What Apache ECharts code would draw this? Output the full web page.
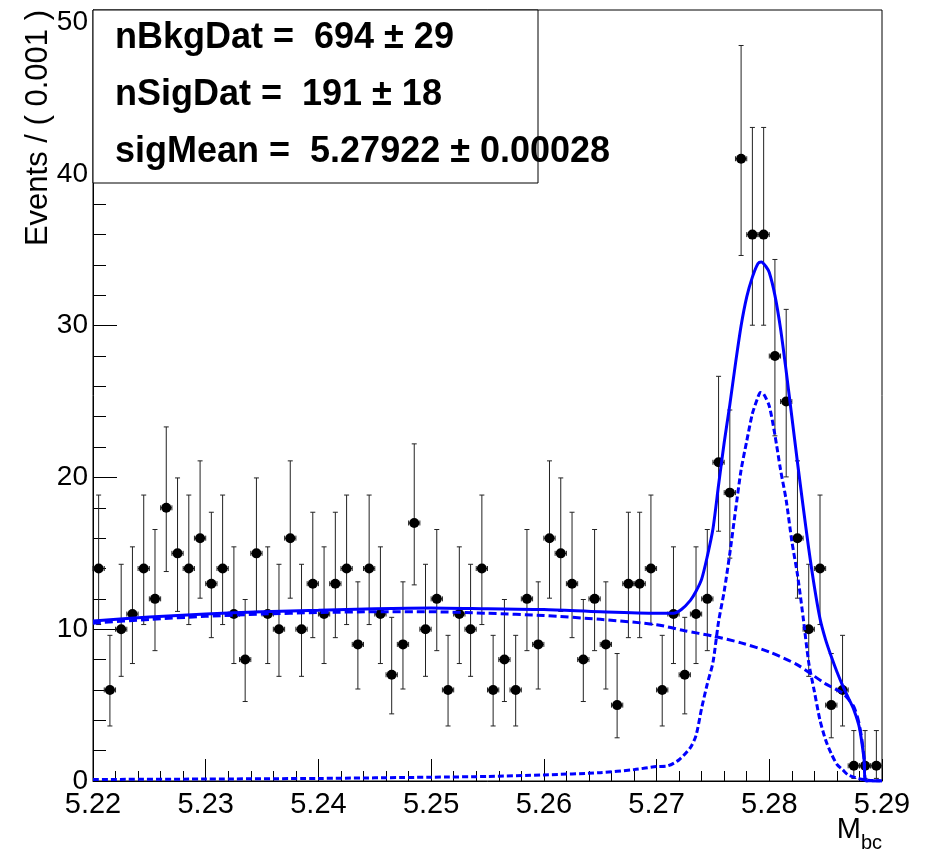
<!DOCTYPE html>
<html><head><meta charset="utf-8">
<script src="https://cdn.jsdelivr.net/npm/echarts@6/dist/echarts.min.js"></script>
<style>html,body{margin:0;padding:0;background:#fff}#c{width:932px;height:853px}</style>
</head><body><div id="c"></div>
<script>
// ---- data ----
const binWidth = 0.001;
const binCenters = [
 5.2205,5.2215,5.2225,5.2235,5.2245,5.2255,5.2265,5.2275,5.2285,5.2295,
 5.2305,5.2315,5.2325,5.2335,5.2345,5.2355,5.2365,5.2375,5.2385,5.2395,
 5.2405,5.2415,5.2425,5.2435,5.2445,5.2455,5.2465,5.2475,5.2485,5.2495,
 5.2505,5.2515,5.2525,5.2535,5.2545,5.2555,5.2565,5.2575,5.2585,5.2595,
 5.2605,5.2615,5.2625,5.2635,5.2645,5.2655,5.2665,5.2675,5.2685,5.2695,
 5.2705,5.2715,5.2725,5.2735,5.2745,5.2755,5.2765,5.2775,5.2785,5.2795,
 5.2805,5.2815,5.2825,5.2835,5.2845,5.2855,5.2865,5.2875,5.2885,5.2895];
const counts = [
 14,6,10,11,14,12,18,15,14,16,
 13,14,11,8,15,11,10,16,10,13,
 11,13,14,9,14,11,7,9,17,10,
 12,6,11,10,14,6,8,6,12,9,
 16,15,13,8,12,9,5,13,13,14,
 6,11,7,11,12,21,19,41,36,36,
 28,25,16,10,14,5,6,1,1,1];

// total fit (solid)
const totX = [5.2200,5.2250,5.2300,5.2350,5.2400,5.2450,5.2500,5.2550,5.2600,5.2650,5.2700,5.2715,5.2722,5.2730,5.2735,5.2740,5.2745,5.2750,5.2755,5.2760,5.2765,5.2770,5.2775,5.2780,5.2785,5.2790,5.2793,5.2797,5.2800,5.2805,5.2810,5.2815,5.2820,5.2825,5.2830,5.2835,5.2840,5.2845,5.2850,5.2855,5.2860,5.2865,5.2870,5.2875,5.2880,5.2884,5.2886,5.2900];
const totY = [10.55,10.80,11.00,11.15,11.25,11.35,11.40,11.35,11.30,11.15,11.05,11.05,11.30,11.90,12.50,13.30,14.80,16.60,19.50,22.30,24.80,27.50,30.00,31.90,33.20,34.10,34.20,33.90,33.50,32.00,29.80,27.00,24.00,21.00,18.10,15.30,12.80,10.70,9.30,8.20,7.20,6.30,5.50,4.70,3.50,1.50,0.00,0.00];
// background component (dashed)
const bkgX = [5.2200,5.2250,5.2300,5.2350,5.2400,5.2450,5.2500,5.2550,5.2600,5.2650,5.2700,5.2725,5.2750,5.2775,5.2800,5.2825,5.2850,5.2865,5.2870,5.2875,5.2879,5.2882,5.2884,5.2886,5.2900];
const bkgY = [10.40,10.65,10.85,11.00,11.10,11.15,11.15,11.05,10.90,10.65,10.30,9.90,9.55,9.10,8.50,7.65,6.40,5.80,5.40,4.90,4.00,2.80,1.60,0.00,0.00];
// signal component (dotted)
const sigX = [5.2200,5.2300,5.2400,5.2500,5.2550,5.2600,5.2650,5.2680,5.2700,5.2710,5.2720,5.2730,5.2735,5.2740,5.2745,5.2750,5.2755,5.2760,5.2765,5.2770,5.2775,5.2780,5.2785,5.2790,5.2792,5.2795,5.2800,5.2805,5.2810,5.2815,5.2820,5.2825,5.2830,5.2835,5.2840,5.2845,5.2850,5.2855,5.2860,5.2865,5.2870,5.2880,5.2888,5.2900];
const sigY = [0.10,0.13,0.17,0.25,0.30,0.40,0.55,0.75,0.95,1.00,1.40,2.20,3.00,4.80,6.40,7.80,10.50,12.50,15.00,17.80,20.50,22.40,24.20,25.30,25.60,25.50,24.70,22.80,20.50,18.50,15.80,13.60,10.80,7.80,5.90,4.00,2.70,1.80,1.10,0.75,0.40,0.15,0.05,0.00];

const statsLines = ['nBkgDat =  694 \u00b1 29', 'nSigDat =  191 \u00b1 18', 'sigMean =  5.27922 \u00b1 0.00028'];
const yTitle = 'Events / ( 0.001 )';
const xTitleMain = 'M', xTitleSub = 'bc';
const yMax = 50.8;

// ---- build ----
function gehrelsLo(n){ if(n<=0) return 0; const t=1-1/(9*n)-1/(3*Math.sqrt(n)); return n*t*t*t; }
function gehrelsHi(n){ return n+1+Math.sqrt(n+0.75); }
const pts = binCenters.map((x,i)=>[x, counts[i], gehrelsLo(counts[i]), gehrelsHi(counts[i])]);
const zip = (a,b)=>a.map((v,i)=>[v,b[i]]);
const FONT = 'Liberation Sans, Arial, Helvetica, sans-serif';
const chart = echarts.init(document.getElementById('c'));
chart.setOption({
  animation:false,
  backgroundColor:'#fff',
  textStyle:{fontFamily:FONT},
  grid:{left:93,right:50,top:10,bottom:72,show:true,borderColor:'#000',borderWidth:1,backgroundColor:'transparent'},
  xAxis:{
    type:'value',min:5.22,max:5.29,interval:0.01,
    axisLine:{show:true,lineStyle:{color:'#000',width:1}},
    splitLine:{show:false},
    axisTick:{show:true,inside:true,length:22,lineStyle:{color:'#000'}},
    minorTick:{show:true,splitNumber:5,length:10,lineStyle:{color:'#000'}},
    axisLabel:{fontSize:29,color:'#000',margin:9,fontFamily:FONT,formatter:v=>v.toFixed(2)}
  },
  yAxis:[{
    type:'value',min:0,max:yMax,interval:10,
    axisLine:{show:true,lineStyle:{color:'#000',width:1}},
    splitLine:{show:false},
    axisTick:{show:true,inside:true,length:24,lineStyle:{color:'#000'}},
    minorTick:{show:false},
    axisLabel:{fontSize:28,color:'#000',margin:5,fontFamily:FONT,showMaxLabel:false,
      formatter:v=>(v%10===0?String(v):'')}
  },{
    type:'value',min:0,max:yMax,interval:2,position:'left',
    axisLine:{show:false},
    splitLine:{show:false},
    axisTick:{show:true,inside:true,length:13,lineStyle:{color:'#000'}},
    axisLabel:{show:false}
  }],
  series:[
    {type:'custom',z:2,clip:false,data:pts,
     renderItem:function(params,api){
       const x=api.value(0),y=api.value(1),lo=api.value(2),hi=api.value(3);
       const c=api.coord([x,y]), pl=api.coord([x,lo]), ph=api.coord([x,hi]);
       const xl=api.coord([x-binWidth/2,y]), xr=api.coord([x+binWidth/2,y]);
       const cap=2.5, st={stroke:'#222',lineWidth:1};
       return {type:'group',children:[
         {type:'line',shape:{x1:c[0],y1:pl[1],x2:c[0],y2:ph[1]},style:st},
         {type:'line',shape:{x1:c[0]-cap,y1:pl[1],x2:c[0]+cap,y2:pl[1]},style:st},
         {type:'line',shape:{x1:c[0]-cap,y1:ph[1],x2:c[0]+cap,y2:ph[1]},style:st},
         {type:'line',shape:{x1:xl[0],y1:c[1],x2:xr[0],y2:c[1]},style:st},
         {type:'line',shape:{x1:xl[0],y1:c[1]-cap,x2:xl[0],y2:c[1]+cap},style:st},
         {type:'line',shape:{x1:xr[0],y1:c[1]-cap,x2:xr[0],y2:c[1]+cap},style:st},
         {type:'circle',shape:{cx:c[0],cy:c[1],r:5},style:{fill:'#000'}}
       ]};
     }},
    {type:'line',z:3,data:zip(bkgX,bkgY),showSymbol:false,smooth:0.25,
     lineStyle:{color:'#0000ff',width:3,type:[8,4]}},
    {type:'line',z:3,data:zip(sigX,sigY),showSymbol:false,smooth:0.25,
     lineStyle:{color:'#0000ff',width:3,type:[6,3]}},
    {type:'line',z:4,data:zip(totX,totY),showSymbol:false,smooth:0.25,
     lineStyle:{color:'#0000ff',width:3}}
  ],
  graphic:[
    {type:'rect',z:10,shape:{x:93,y:10,width:445,height:173},style:{fill:'#fff',stroke:'#000',lineWidth:1}},
    {type:'text',z:11,x:115,y:38,style:{text:statsLines[0],font:'bold 36px '+FONT,fill:'#000',verticalAlign:'middle'}},
    {type:'text',z:11,x:115,y:95,style:{text:statsLines[1],font:'bold 36px '+FONT,fill:'#000',verticalAlign:'middle'}},
    {type:'text',z:11,x:115,y:152,style:{text:statsLines[2],font:'bold 36px '+FONT,fill:'#000',verticalAlign:'middle'}},
    {type:'text',z:11,x:38,y:10,rotation:Math.PI/2,style:{text:yTitle,font:'31px '+FONT,fill:'#000',align:'right',verticalAlign:'middle'}},
    {type:'text',z:11,x:861,y:830,style:{text:xTitleMain,font:'29px '+FONT,fill:'#000',align:'right',verticalAlign:'middle'}},
    {type:'text',z:11,x:861,y:843,style:{text:xTitleSub,font:'20px '+FONT,fill:'#000',align:'left',verticalAlign:'middle'}}
  ]
});
</script></body></html>
